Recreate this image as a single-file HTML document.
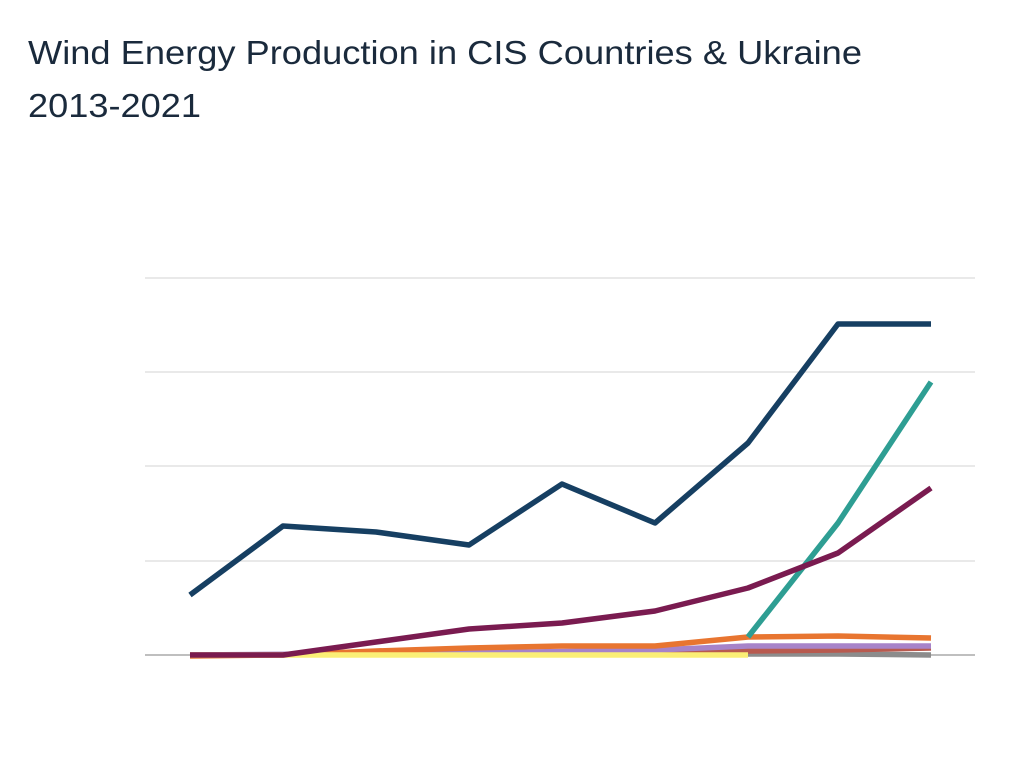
<!DOCTYPE html>
<html><head><meta charset="utf-8"><style>
html,body{margin:0;padding:0;background:#fff;width:1024px;height:768px;overflow:hidden}
</style></head><body>
<svg width="1024" height="768" xmlns="http://www.w3.org/2000/svg" style="display:block">
<rect width="1024" height="768" fill="#fff"/>
<g font-family="Liberation Sans, sans-serif" font-size="33" fill="#1a2a3c">
<text x="28" y="64" textLength="834" lengthAdjust="spacingAndGlyphs">Wind Energy Production in CIS Countries &amp; Ukraine</text>
<text x="28" y="117" textLength="173" lengthAdjust="spacingAndGlyphs">2013-2021</text>
</g>
<g stroke="#dcdcdc" stroke-width="1.2">
<line x1="145" y1="278" x2="975" y2="278"/>
<line x1="145" y1="372" x2="975" y2="372"/>
<line x1="145" y1="466" x2="975" y2="466"/>
<line x1="145" y1="561" x2="975" y2="561"/>
</g>
<line x1="145" y1="655" x2="975" y2="655" stroke="#aaa" stroke-width="1.5"/>
<g fill="none" stroke-width="5.5" stroke-linejoin="round" stroke-linecap="butt">
<polyline stroke="#8c8c8c" points="748,654 838,654 931,655"/>
<polyline stroke="#b85a4f" points="190,655 469,654 748,651 838,650 931,648"/>
<polyline stroke="#a783c9" points="190,655 469,653 655,650 748,646 838,646 931,646"/>
<polyline stroke="#e87530" points="190,656 283,655 376,651 469,648 562,646 655,646 748,637 838,636 931,638"/>
<polyline stroke="#fbef76" points="190,655 748,655"/>
<polyline stroke="#2e9e93" points="748,637 838,523 931,382"/>
<polyline stroke="#7a1b50" points="190,655 283,655 376,642 469,629 562,623 655,611 748,588 838,553 931,488"/>
<polyline stroke="#163f62" points="190,595 283,526 376,532 469,545 562,484 655,523 748,443 838,324 931,324"/>
</g>
</svg>
</body></html>
